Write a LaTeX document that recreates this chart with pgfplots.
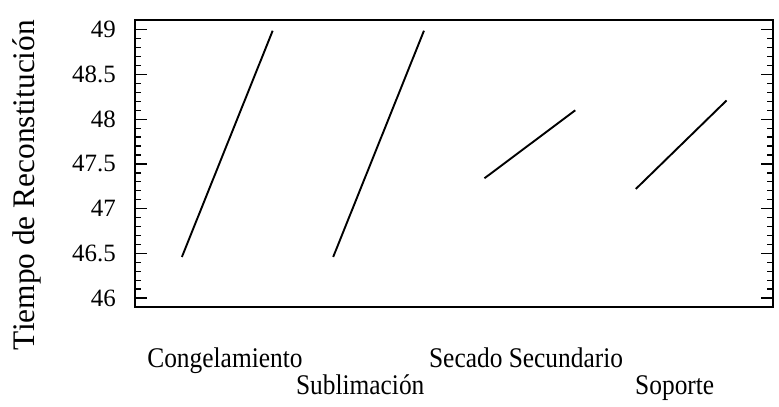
\documentclass[border=0pt]{standalone}
\usepackage{fontspec}
\setmainfont{Liberation Serif}
\usepackage{graphicx}
\usepackage{pgfplots}
\pgfplotsset{compat=1.18}

% Main effects: mean reconstitution time at the low and high level of each factor
\pgfplotstableread{
x y
0.31 46.46
0.91 48.99
}\congelamiento
\pgfplotstableread{
x y
1.31 46.46
1.91 48.99
}\sublimacion
\pgfplotstableread{
x y
2.31 47.34
2.91 48.10
}\secado
\pgfplotstableread{
x y
3.31 47.22
3.91 48.21
}\soporte

\newcommand{\factorname}[1]{\scalebox{1}[1.12]{#1}}

\begin{document}
\begin{tikzpicture}
\begin{axis}[
  name=ax,
  scale only axis,
  width=638bp, height=287bp,
  xmin=0, xmax=4.217,
  ymin=45.9, ymax=49.11,
  xtick=\empty,
  ytick={46,46.5,...,49},
  minor y tick num=4,
  tick align=inside,
  ytick pos=both,
  major tick length=12bp,
  minor tick length=6bp,
  tick style={black, line width=1.3bp},
  axis line style={black, line width=1.3bp},
  /pgf/number format/assume math mode=true,
  yticklabel style={font=\fontsize{25}{25}\selectfont, anchor=east, inner sep=0pt, xshift=-19bp},
  ylabel={Tiempo de Reconstitución},
  ylabel style={font=\fontsize{31.5}{31.5}\selectfont, at={(rel axis cs:-0.169,0.425)}, anchor=center},
  clip=false,
]
\addplot[black, line width=1.9bp] table {\congelamiento};
\addplot[black, line width=1.9bp] table {\sublimacion};
\addplot[black, line width=1.9bp] table {\secado};
\addplot[black, line width=1.9bp] table {\soporte};

% factor names, staggered on two rows
\node[font=\fontsize{25.5}{25.5}\selectfont, anchor=base] at (rel axis cs:0.141,0) [yshift=-60bp] {\factorname{Congelamiento}};
\node[font=\fontsize{25.5}{25.5}\selectfont, anchor=base] at (rel axis cs:0.353,0) [yshift=-87bp] {\factorname{Sublimación}};
\node[font=\fontsize{25.5}{25.5}\selectfont, anchor=base] at (rel axis cs:0.613,0) [yshift=-60bp] {\factorname{Secado Secundario}};
\node[font=\fontsize{25.5}{25.5}\selectfont, anchor=base] at (rel axis cs:0.846,0) [yshift=-87bp] {\factorname{Soporte}};
\end{axis}
\pgfresetboundingbox
\useasboundingbox ([xshift=-135bp,yshift=-100bp]ax.south west) rectangle ([xshift=6bp,yshift=20bp]ax.north east);
\end{tikzpicture}
\end{document}
